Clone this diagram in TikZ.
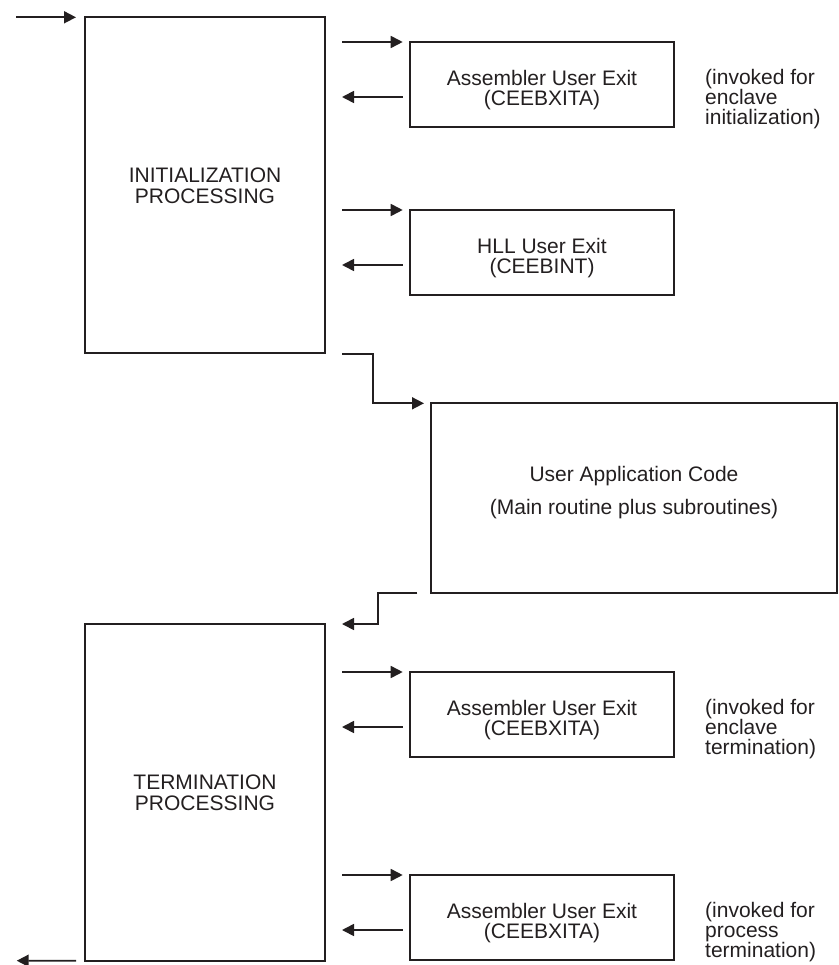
\documentclass[tikz,border=0pt]{standalone}
\usepackage{fontspec}
\setmainfont{Liberation Sans}
\usetikzlibrary{arrows.meta,calc}
\definecolor{ink}{HTML}{231F20}
\begin{document}
\begin{tikzpicture}[x=1pt,y=-1pt,
  box/.style={draw=ink, line width=1.7pt, inner sep=0pt, outer sep=0pt, anchor=north west},
  exitbox/.style={box, minimum width=264pt, minimum height=85pt},
  bigbox/.style={box, minimum width=240pt, minimum height=336pt, align=center, text=ink, font=\fontsize{21}{21}\selectfont},
  boxtxt/.style={anchor=north, align=center, text=ink, inner sep=0pt, font=\fontsize{21}{20.5}\selectfont},
  side/.style={anchor=north west, align=left, text=ink, inner sep=0pt, font=\fontsize{21}{20}\selectfont},
  arr/.style={draw=ink, line width=1.7pt, -{Triangle[length=12pt,width=12pt]}},
]
\useasboundingbox (0,0) rectangle (838,965);

% main boxes
\node[bigbox] (init) at (85,17.3) {INITIALIZATION\\PROCESSING};
\node[bigbox, minimum height=336.7pt] (term) at (85,624) {TERMINATION\\PROCESSING};
\node[box, minimum width=406pt, minimum height=190pt] (app) at (431,403.3) {};

% exit boxes
\node[exitbox] (b1) at (410,42) {};
\node[exitbox] (b2) at (410,210) {};
\node[exitbox] (b3) at (410,672) {};
\node[exitbox] (b4) at (410,875) {};

% box texts
\node[boxtxt] (t1) at ($(b1.north)+(0,28)$) {Assembler User Exit\\(CEEBXITA)};
\node[boxtxt] (t2) at ($(b2.north)+(0,28)$) {HLL User Exit\\(CEEBINT)};
\node[boxtxt] (t3) at ($(b3.north)+(0,28)$) {Assembler User Exit\\(CEEBXITA)};
\node[boxtxt] (t4) at ($(b4.north)+(0,28)$) {Assembler User Exit\\(CEEBXITA)};
\node[boxtxt, font=\fontsize{21}{33.3}\selectfont] (appt) at ($(app.north)+(0,62.4)$) {User Application Code\\(Main routine plus subroutines)};

% side notes
\node[side] (s1) at ($(b1.north east)+(31,27)$) {(invoked for\\enclave\\initialization)};
\node[side] (s3) at ($(b3.north east)+(31,27)$) {(invoked for\\enclave\\termination)};
\node[side] (s4) at ($(b4.north east)+(31,27)$) {(invoked for\\process\\termination)};

% entry / exit arrows
\coordinate (inL) at (16,17.3);
\coordinate (outL) at (16.7,960.7);
\draw[arr] (inL) -- ($(init.north west)+(-9,0)$);
\draw[arr] ($(term.south west)+(-9,0)$) -- (outL);

% calls to exits
\foreach \b in {b1,b2} {
  \draw[arr] ($(init.east |- \b.north)+(17,0)$) -- ($(\b.north west)+(-7.3,0)$);
  \draw[arr] ($(\b.north west)+(-7.3,55)$) -- ($(init.east |- \b.north)+(17,55)$);
}
\foreach \b in {b3,b4} {
  \draw[arr] ($(term.east |- \b.north)+(17,0)$) -- ($(\b.north west)+(-7.3,0)$);
  \draw[arr] ($(\b.north west)+(-7.3,55)$) -- ($(term.east |- \b.north)+(17,55)$);
}

% elbows
\draw[arr] ($(init.south east)+(17,0.5)$) -- ++(31,0) |- ($(app.north west)+(-7,0)$);
\draw[arr] ($(app.south west)+(-13.7,0)$) -- ++(-39,0) |- ($(term.north east)+(17,0)$);
\end{tikzpicture}
\end{document}
